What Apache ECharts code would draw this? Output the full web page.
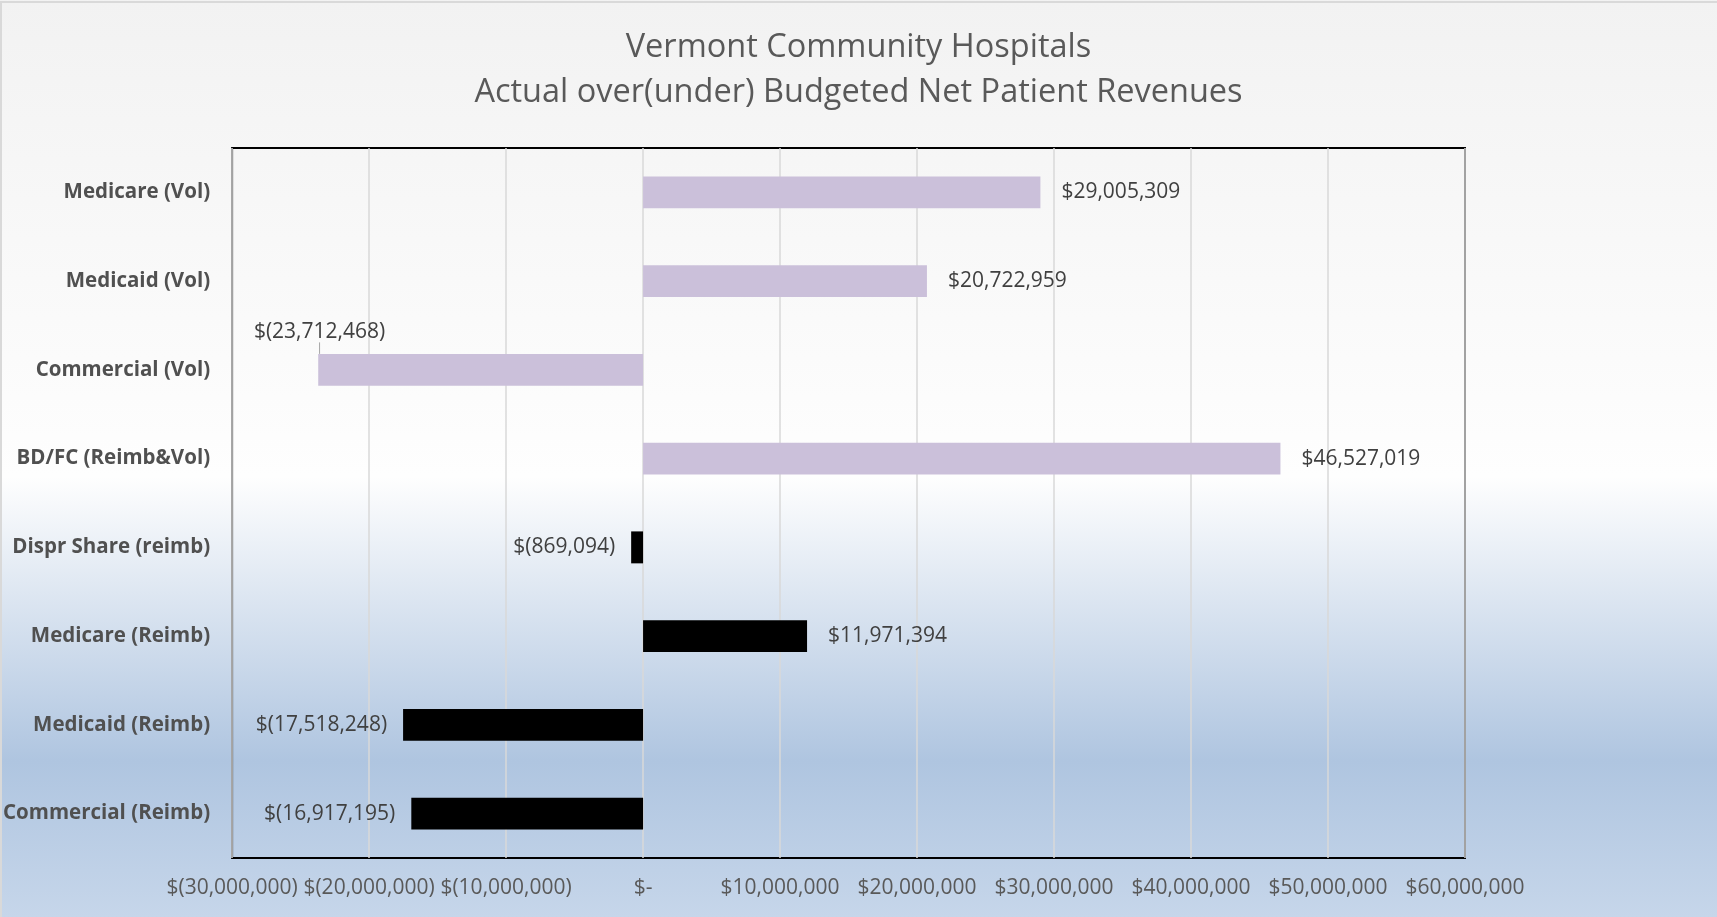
<!DOCTYPE html>
<html>
<head>
<meta charset="utf-8">
<script src="https://cdn.jsdelivr.net/npm/echarts@6/dist/echarts.min.js"></script>
<style>
  html, body { margin: 0; padding: 0; }
  #chart { width: 1717px; height: 917px; }
</style>
</head>
<body>
<div id="chart"></div>
<script>
// categories, top to bottom
var categories = [
    'Medicare (Vol)', 'Medicaid (Vol)', 'Commercial (Vol)', 'BD/FC (Reimb&Vol)',
    'Dispr Share (reimb)', 'Medicare (Reimb)', 'Medicaid (Reimb)', 'Commercial (Reimb)'
];
// volume driven (lavender) and reimbursement driven (black) variances
var volumeValues = [29005309, 20722959, -23712468, 46527019, null, null, null, null];
var reimbValues = [null, null, null, null, -869094, 11971394, -17518248, -16917195];
var xTicks = { min: -30000000, max: 60000000, interval: 10000000 };
var movedLabel = 2; // Commercial (Vol) label sits above the bar with a leader line

function money(v){
    if (v === 0) return '$-';
    var s = Math.abs(Math.round(v)).toString().replace(/\B(?=(\d{3})+(?!\d))/g, ',');
    return v < 0 ? '$(' + s + ')' : '$' + s;
}

function toItems(values){
    return values.map(function(v, i){
        if (v === null) return null;
        var item = {
            value: v,
            label: { position: v < 0 ? 'left' : 'right', distance: v < 0 ? 16 : 21 }
        };
        if (values === volumeValues && i === movedLabel) {
            item.labelLine = { show: true, lineStyle: { color: '#a6a6a6', width: 1 } };
        }
        return item;
    });
}

var chart = echarts.init(document.getElementById('chart'));

var labelStyle = {
    show: true,
    color: '#404040',
    fontFamily: 'Open Sans',
    fontSize: 21,
    formatter: function(p){ return money(p.value); }
};

var option = {
    backgroundColor: new echarts.graphic.LinearGradient(0, 0, 0, 1, [
        { offset: 0, color: '#f2f2f2' },
        { offset: 0.52, color: '#fefefe' },
        { offset: 0.83, color: '#afc5e0' },
        { offset: 1, color: '#c6d6ea' }
    ]),
    title: {
        text: 'Vermont Community Hospitals\nActual over(under) Budgeted Net Patient Revenues',
        left: 'center',
        top: 20,
        textStyle: {
            fontFamily: 'Open Sans',
            fontWeight: 'normal',
            fontSize: 32.5,
            lineHeight: 45,
            color: '#595959'
        }
    },
    graphic: [{
        type: 'rect',
        shape: { x: 1, y: 2, width: 1730, height: 930 },
        style: { fill: 'none', stroke: '#d9d9d9', lineWidth: 2 },
        silent: true
    }],
    grid: {
        left: 230,
        right: 252,
        top: 148,
        bottom: 59,
        show: true,
        borderColor: '#000',
        borderWidth: 2,
        backgroundColor: 'transparent'
    },
    xAxis: {
        type: 'value',
        min: xTicks.min,
        max: xTicks.max,
        interval: xTicks.interval,
        axisLine: { show: false },
        axisTick: { show: false },
        splitLine: { show: true, lineStyle: { color: '#d9d9d9', width: 1.5 } },
        axisLabel: {
            color: '#595959',
            fontFamily: 'Open Sans',
            fontSize: 21,
            margin: 20,
            formatter: money
        }
    },
    yAxis: {
        type: 'category',
        inverse: true,
        data: categories,
        axisLine: { show: false },
        axisTick: { show: false },
        splitLine: { show: false },
        axisLabel: {
            color: '#505050',
            fontFamily: 'Open Sans',
            fontWeight: 'bold',
            fontSize: 20.5,
            margin: 22
        }
    },
    series: [
        {
            name: 'Volume',
            type: 'bar',
            barWidth: '36%',
            barGap: '-100%',
            itemStyle: { color: '#cbc0da' },
            label: labelStyle,
            labelLayout: function(p){
                if (p.dataIndex === movedLabel) return { dx: 83, dy: -38 };
                return {};
            },
            data: toItems(volumeValues)
        },
        {
            name: 'Reimbursement',
            type: 'bar',
            barWidth: '36%',
            barGap: '-100%',
            itemStyle: { color: '#000000' },
            label: labelStyle,
            data: toItems(reimbValues)
        }
    ]
};

chart.setOption(option);
</script>
</body>
</html>
